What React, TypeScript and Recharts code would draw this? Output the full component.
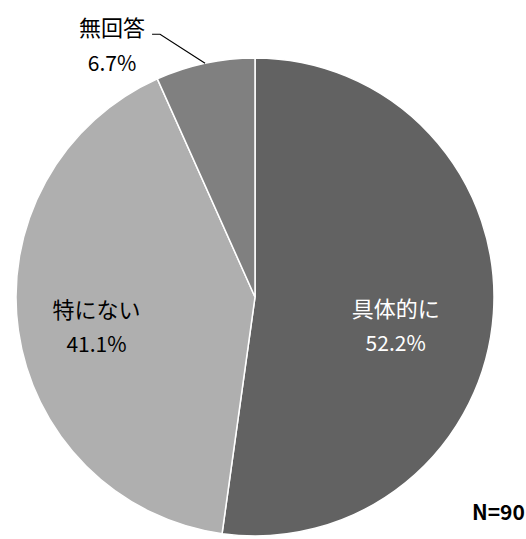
import { PieChart, Pie, Cell } from 'recharts';

const categories = ['具体的に', '特にない', '無回答'];
const shares = [52.2, 41.1, 6.7];
const sampleLabel = 'N=90';

const sliceColors = ['#626262', '#afafaf', '#808080'];
const FONT = '"Noto Sans CJK JP", "Noto Sans", sans-serif';
const RAD = Math.PI / 180;

const data = categories.map((name, i) => ({ name, value: shares[i] }));

function renderLabel(props: any) {
  const { cx, cy, midAngle, outerRadius, index, value, name } = props;
  const cos = Math.cos(-midAngle * RAD);
  const sin = Math.sin(-midAngle * RAD);
  const pct = `${Number(value).toFixed(1)}%`;

  if (index === 2) {
    // outside label with elbow leader line
    const ox = cx + outerRadius * cos;
    const oy = cy + outerRadius * sin;
    const ex = ox - 45;
    const ey = oy - 29;
    return (
      <g>
        <polyline
          points={`${ox},${oy} ${ex},${ey} ${ex - 8},${ey}`}
          fill="none"
          stroke="#000"
          strokeWidth={1.2}
        />
        <text x={ox - 93} y={ey - 8} textAnchor="middle" dominantBaseline="central" fill="#000" fontSize={22} fontFamily={FONT}>
          {name}
        </text>
        <text x={ox - 93} y={ey + 28} textAnchor="middle" dominantBaseline="central" fill="#000" fontSize={21} fontFamily={FONT}>
          {pct}
        </text>
      </g>
    );
  }

  const r = index === 0 ? 0.59 : 0.67;
  const x = cx + outerRadius * r * cos;
  const y = cy + outerRadius * r * sin + (index === 0 ? 0 : -12);
  const color = index === 0 ? '#fff' : '#000';
  return (
    <g>
      <text x={x} y={y} textAnchor="middle" dominantBaseline="central" fill={color} fontSize={22} fontFamily={FONT}>
        {name}
      </text>
      <text x={x} y={y + 35} textAnchor="middle" dominantBaseline="central" fill={color} fontSize={21} fontFamily={FONT}>
        {pct}
      </text>
    </g>
  );
}

export default function App() {
  return (
    <div style={{ position: 'absolute', left: 0, top: 0, width: 526, height: 539, background: '#fff' }}>
      <PieChart width={526} height={539} margin={{ top: 0, right: 0, bottom: 0, left: 0 }}>
        <Pie
          data={data}
          dataKey="value"
          nameKey="name"
          cx={255}
          cy={297}
          outerRadius={239}
          startAngle={90}
          endAngle={-270}
          stroke="#fff"
          strokeWidth={1.5}
          label={renderLabel}
          labelLine={false}
          isAnimationActive={false}
        >
          {data.map((d, i) => (
            <Cell key={d.name} fill={sliceColors[i]} />
          ))}
        </Pie>
      </PieChart>
      <div
        style={{
          position: 'absolute',
          left: 472,
          top: 501,
          lineHeight: 1,
          fontFamily: FONT,
          fontWeight: 'bold',
          fontSize: 21,
          color: '#000',
        }}
      >
        {sampleLabel}
      </div>
    </div>
  );
}
